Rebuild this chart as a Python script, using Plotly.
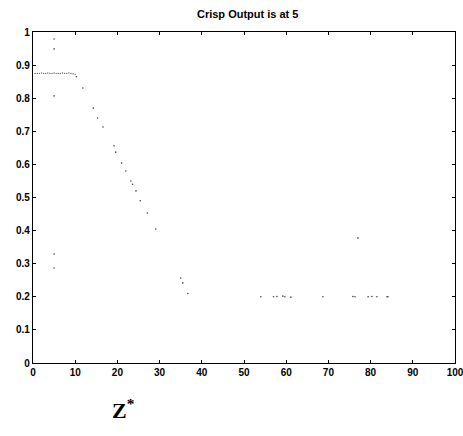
import plotly.graph_objects as go

title_text = "Crisp Output is at 5"

# plateau segment (dense dots)
plateau_x = [0.5, 1.0, 1.5, 2.0, 2.5, 3.0, 3.5, 4.0, 4.5, 5.0, 5.5, 6.0, 6.5, 7.0, 7.5, 8.0, 8.5, 9.0, 9.5, 10.0]
plateau_y = [0.875, 0.875, 0.875, 0.876, 0.875, 0.875, 0.876, 0.875, 0.875, 0.876, 0.875, 0.875, 0.875, 0.876, 0.875, 0.875, 0.876, 0.875, 0.874, 0.872]

# scattered dots
pts_x = [5.0, 5.0, 5.0, 5.0, 5.0, 10.3, 11.8, 14.3, 15.3, 16.6, 19.2, 19.6, 21.0, 22.0, 23.2, 23.6,
         24.4, 25.4, 27.1, 29.1, 35.0, 35.5, 36.7, 54.0, 57.0, 57.8, 59.2, 59.7, 61.1, 68.7,
         75.8, 76.3, 77.0, 79.4, 80.3, 81.5, 83.9, 84.1]
pts_y = [0.979, 0.949, 0.807, 0.329, 0.287, 0.865, 0.831, 0.770, 0.740, 0.713, 0.656, 0.637, 0.604, 0.580, 0.550, 0.540,
         0.520, 0.490, 0.453, 0.405, 0.257, 0.242, 0.210, 0.200, 0.200, 0.201, 0.202, 0.200, 0.199, 0.200,
         0.201, 0.200, 0.378, 0.200, 0.201, 0.200, 0.200, 0.200]

x_ticks = [0, 10, 20, 30, 40, 50, 60, 70, 80, 90, 100]
y_ticks = [0, 0.1, 0.2, 0.3, 0.4, 0.5, 0.6, 0.7, 0.8, 0.9, 1]
y_tick_text = ["0", "0.1", "0.2", "0.3", "0.4", "0.5", "0.6", "0.7", "0.8", "0.9", "1"]

fig = go.Figure()
fig.add_trace(go.Scatter(x=plateau_x, y=plateau_y, mode="markers",
                         marker=dict(color="#666666", size=1.4), hoverinfo="skip"))
fig.add_trace(go.Scatter(x=pts_x, y=pts_y, mode="markers",
                         marker=dict(color="#444444", size=1.6), hoverinfo="skip"))

axis_common = dict(showgrid=False, zeroline=False, showline=True, linecolor="black", linewidth=1.3,
                   mirror="ticks", ticks="inside", ticklen=3, tickcolor="black", automargin=False,
                   ticklabeloverflow="allow",
                   tickfont=dict(family="Liberation Sans, Arial", size=10, color="black", weight="bold"))

fig.update_layout(
    width=463, height=436,
    margin=dict(l=33, r=8, t=32, b=73),
    paper_bgcolor="white", plot_bgcolor="white",
    showlegend=False,
    title=dict(text=title_text, x=0.535, xanchor="center", y=0.968, yanchor="middle",
               font=dict(family="Liberation Sans, Arial", size=11, color="black", weight="bold")),
    xaxis=dict(range=[0, 100], tickvals=x_ticks, **axis_common),
    yaxis=dict(range=[0, 1], tickvals=y_ticks, ticktext=y_tick_text, **axis_common),
)

fig.add_annotation(text="Z<sup>*</sup>", xref="paper", yref="paper", x=0.215, y=-0.14,
                   xanchor="center", yanchor="middle", showarrow=False,
                   font=dict(family="Liberation Serif, Times New Roman", size=22, color="black", weight="bold"))

fig.write_html("out.html")
